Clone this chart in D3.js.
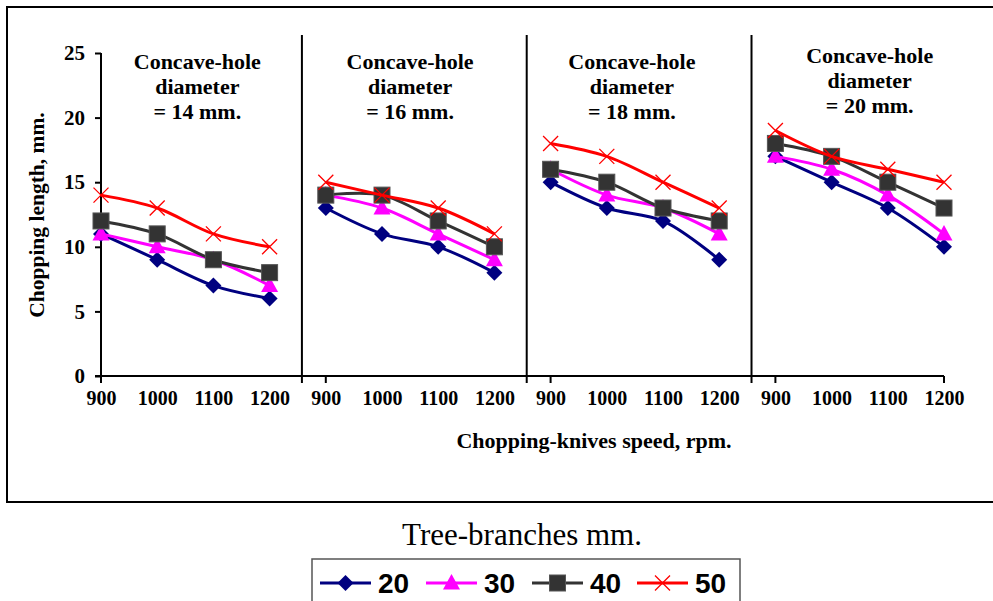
<!DOCTYPE html>
<html><head><meta charset="utf-8">
<script src="https://cdn.jsdelivr.net/npm/d3@7"></script>
<style>body{margin:0;background:#fff}svg{display:block}</style>
</head><body><svg id="c" width="993" height="601"></svg>
<script>
const panels = ["14", "16", "18", "20"];
const speeds = [900, 1000, 1100, 1200];
const seriesNames = ["20", "30", "40", "50"];
// values per series, per panel (14,16,18,20 mm), per speed
const s20 = [[11, 9, 7, 6], [13, 11, 10, 8], [15, 13, 12, 9], [17, 15, 13, 10]];
const s30 = [[11, 10, 9, 7], [14, 13, 11, 9], [16, 14, 13, 11], [17, 16, 14, 11]];
const s40 = [[12, 11, 9, 8], [14, 14, 12, 10], [16, 15, 13, 12], [18, 17, 15, 13]];
const s50 = [[14, 13, 11, 10], [15, 14, 13, 11], [18, 17, 15, 13], [19, 17, 16, 15]];
const yTicks = [0, 5, 10, 15, 20, 25];

const colors = ["#000080", "#FF00FF", "#333333", "#FF0000"];
const markers = ["diamond", "triangle", "square", "x"];
const allSeries = [s20, s30, s40, s50];

const svg = d3.select("#c");
const serif = "'Liberation Serif','Times New Roman',serif";

// outer frame
svg.append("rect").attr("x", 7).attr("y", 7).attr("width", 1000).attr("height", 495)
  .attr("fill", "none").attr("stroke", "#000").attr("stroke-width", 2);

const cats = [];
panels.forEach(p => speeds.forEach(s => cats.push(p + "-" + s)));
const x = d3.scalePoint().domain(cats).range([101, 944]);
const y = d3.scaleLinear().domain([0, 25]).range([376, 53]);
const step = x.step();

// y axis
const ya = svg.append("g").attr("transform", "translate(101,0)")
  .call(d3.axisLeft(y).tickValues(yTicks).tickSize(6).tickPadding(10).tickFormat(d3.format("d")));
ya.select(".domain").attr("stroke-width", 2).attr("d", "M0," + y(25) + "V" + y(0));
ya.selectAll(".tick line").attr("stroke-width", 2);
ya.selectAll("text").attr("font-family", serif).attr("font-weight", "bold").attr("font-size", 21).attr("fill", "#000");

// x axis
const xa = svg.append("g").attr("transform", "translate(0,376)")
  .call(d3.axisBottom(x).tickSize(0).tickPadding(15).tickFormat(d => d.split("-")[1]));
xa.select(".domain").attr("stroke-width", 2).attr("d", "M95,0H944");
xa.selectAll("text").attr("font-family", serif).attr("font-weight", "bold").attr("font-size", 20).attr("fill", "#000");

// tick marks and separators
const tickXs = [];
panels.forEach((p, i) => {
  tickXs.push(x(p + "-900"));
  if (i < panels.length - 1) tickXs.push(x(p + "-1200") + step * 0.575);
});
tickXs.push(x(panels[panels.length - 1] + "-1200"));
svg.selectAll("line.tk").data(tickXs).join("line").attr("class", "tk")
  .attr("x1", d => d).attr("x2", d => d).attr("y1", 376).attr("y2", 383)
  .attr("stroke", "#000").attr("stroke-width", 2);
panels.slice(0, -1).forEach(p => {
  const sx = x(p + "-1200") + step * 0.575;
  svg.append("line").attr("x1", sx).attr("x2", sx).attr("y1", 35).attr("y2", 376)
    .attr("stroke", "#000").attr("stroke-width", 2);
});

// panel titles
const titleY = [[61, 86, 111], [61, 86, 111], [61, 86, 111], [55, 80, 105]];
const titleShift = [12, 0, -3, 10];
panels.forEach((p, i) => {
  const cx = (x(p + "-1000") + x(p + "-1100")) / 2 + titleShift[i];
  const lines = ["Concave-hole", "diameter", "= " + p + " mm."];
  lines.forEach((t, j) => {
    svg.append("text").attr("x", cx).attr("y", titleY[i][j]).attr("dy", "0.35em")
      .attr("text-anchor", "middle").attr("font-family", serif).attr("font-weight", "bold")
      .attr("font-size", 22).text(t);
  });
});

// axis titles
svg.append("text").attr("transform", "translate(36,215) rotate(-90)").attr("dy", "0.35em")
  .attr("text-anchor", "middle").attr("font-family", serif).attr("font-weight", "bold")
  .attr("font-size", 21.5).text("Chopping length, mm.");
svg.append("text").attr("x", 594).attr("y", 440).attr("dy", "0.35em")
  .attr("text-anchor", "middle").attr("font-family", serif).attr("font-weight", "bold")
  .attr("font-size", 22).text("Chopping-knives speed, rpm.");

function drawMarker(g, type, cx, cy, color) {
  if (type === "diamond") {
    g.append("path").attr("d", `M${cx},${cy - 8}L${cx + 8},${cy}L${cx},${cy + 8}L${cx - 8},${cy}Z`)
      .attr("fill", color);
  } else if (type === "triangle") {
    g.append("path").attr("d", `M${cx},${cy - 9}L${cx + 8.5},${cy + 6.5}L${cx - 8.5},${cy + 6.5}Z`)
      .attr("fill", color);
  } else if (type === "square") {
    g.append("rect").attr("x", cx - 8).attr("y", cy - 8).attr("width", 16).attr("height", 16)
      .attr("fill", color).attr("stroke", "#555").attr("stroke-width", 1);
  } else {
    g.append("path").attr("d", `M${cx - 7.5},${cy - 7.5}L${cx + 7.5},${cy + 7.5}M${cx + 7.5},${cy - 7.5}L${cx - 7.5},${cy + 7.5}`)
      .attr("stroke", color).attr("stroke-width", 1.3).attr("fill", "none");
  }
}

const line = d3.line().x(d => x(d.c)).y(d => y(d.v)).curve(d3.curveCatmullRom.alpha(0.5));

allSeries.forEach((ser, si) => {
  const g = svg.append("g");
  panels.forEach((p, pi) => {
    const pts = speeds.map((s, k) => ({ c: p + "-" + s, v: ser[pi][k] }));
    g.append("path").attr("d", line(pts)).attr("fill", "none")
      .attr("stroke", colors[si]).attr("stroke-width", 3);
    pts.forEach(d => drawMarker(g, markers[si], x(d.c), y(d.v), colors[si]));
  });
});

// legend
svg.append("text").attr("x", 522).attr("y", 534).attr("dy", "0.35em").attr("text-anchor", "middle")
  .attr("font-family", serif).attr("font-size", 31).text("Tree-branches mm.");
svg.append("rect").attr("x", 312).attr("y", 559).attr("width", 428).attr("height", 60)
  .attr("fill", "#fff").attr("stroke", "#555").attr("stroke-width", 1.5);
const legX = [320, 426, 532, 637];
seriesNames.forEach((n, i) => {
  const lg = svg.append("g");
  lg.append("line").attr("x1", legX[i]).attr("x2", legX[i] + 51).attr("y1", 583).attr("y2", 583)
    .attr("stroke", colors[i]).attr("stroke-width", 3);
  drawMarker(lg, markers[i], legX[i] + 25.5, 583, colors[i]);
  lg.append("text").attr("x", legX[i] + 58).attr("y", 583).attr("dy", "0.36em")
    .attr("font-family", "'Liberation Sans',Arial,sans-serif").attr("font-weight", "bold")
    .attr("font-size", 28).text(n);
});
</script></body></html>
